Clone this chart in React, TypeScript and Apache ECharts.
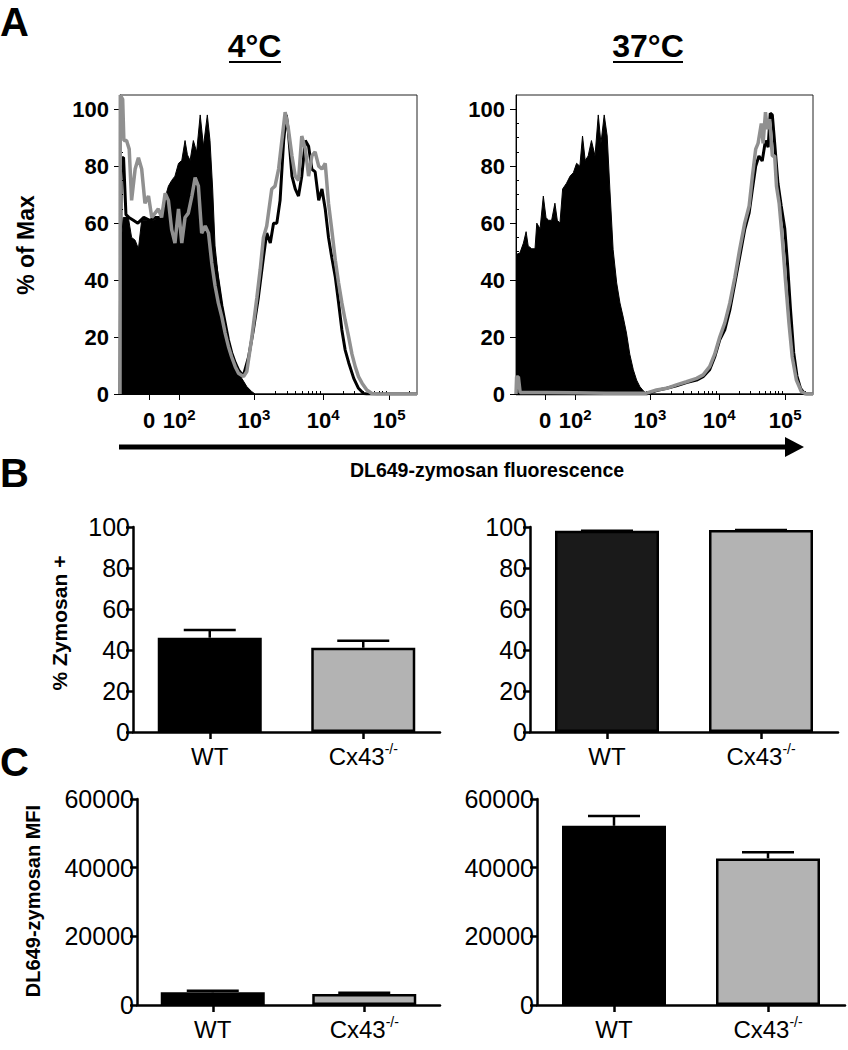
import React, { useEffect, useRef } from "react";
import * as echarts from "echarts";

const FONT = "'Liberation Sans', Arial, Helvetica, sans-serif";

// ---------- Panel A: flow-cytometry histograms ----------
// x = position on the biexponential display axis (0–100 across the plot), y = % of Max
const coldControl = [
  [0, 48], [1.1, 62], [2.8, 62], [3.9, 55], [5.1, 54], [6.2, 51], [7.3, 61], [9.0, 61], [11.2, 61],
  [13.5, 62], [15.2, 69], [16.3, 73], [17.4, 75], [18.5, 76.5], [19.7, 81], [20.8, 82], [21.9, 89],
  [22.7, 84], [23.6, 82], [24.7, 89], [25.8, 85], [27.0, 98], [28.1, 87], [29.4, 98], [30.3, 89],
  [31.2, 72], [32.0, 52], [33.1, 41], [34.3, 32], [35.4, 25], [36.5, 19], [37.6, 14], [38.8, 11],
  [39.9, 8], [41.0, 5.5], [42.7, 2.6], [44.4, 0.8], [45.5, 0], [100, 0],
];
const coldWT = [
  [0, 0], [0.4, 83], [1.2, 83], [2.0, 63], [3.0, 62], [4.5, 61], [6.0, 60], [8, 62], [10, 61], [12, 62],
  [14, 62], [16, 66], [18, 70], [20, 72], [22, 75], [24, 78], [26, 76], [28, 72], [30, 62], [31.5, 50],
  [33, 40], [34.3, 31], [35.4, 25], [36.5, 19], [37.6, 14.5], [38.8, 11], [39.9, 8.5], [41.0, 7],
  [41.6, 6.7], [43.3, 13], [44.9, 22.5], [46.6, 34], [48.3, 48], [49.4, 56.5], [50.6, 53], [51.7, 60],
  [52.8, 60], [53.9, 68], [55.1, 89], [56.0, 98], [56.7, 92], [57.9, 76.5], [59.0, 72], [60.1, 69.5],
  [61.2, 76.5], [62.4, 89], [63.5, 87], [64.6, 79], [65.7, 78], [66.9, 68], [68.0, 72], [69.1, 65],
  [70.2, 55], [71.3, 48], [72.5, 41], [73.6, 32], [74.7, 22.5], [75.8, 15.5], [77.0, 11], [78.7, 5.5],
  [80.3, 2], [82.0, 0.2], [83.1, 0], [100, 0],
];
const coldKO = [
  [0, 0], [0.1, 105], [0.9, 103.5], [1.3, 89], [2.2, 89], [3.1, 86], [3.9, 68], [5.1, 79], [6.2, 83],
  [7.3, 79], [8.4, 67], [9.6, 69.5], [10.7, 62], [11.8, 63.5], [12.9, 65], [14.0, 62], [15.2, 70.5],
  [16.3, 68], [17.4, 57.7], [18.5, 53], [19.7, 65], [20.8, 53], [21.9, 62], [23.0, 63.5], [24.2, 69.5],
  [25.3, 76], [26.4, 73], [27.5, 56.5], [28.7, 59], [29.8, 56.5], [30.9, 46], [32.0, 38], [33.1, 32],
  [34.3, 27], [35.4, 21.4], [36.5, 16.7], [37.6, 13], [38.8, 9.6], [39.9, 7.3], [41.6, 6.1], [42.7, 7.9],
  [44.4, 20], [46.1, 34], [47.2, 43.7], [48.3, 55], [49.4, 59], [51.1, 72], [52.2, 73], [53.4, 79],
  [54.5, 89], [55.6, 99], [56.7, 93], [57.9, 83.6], [59.0, 76.5], [60.1, 75], [61.2, 90.6], [62.4, 86],
  [63.5, 76.5], [64.6, 83.6], [65.7, 85], [66.9, 80], [68.0, 79], [69.1, 81], [70.2, 67], [71.3, 57.7],
  [72.5, 47], [73.6, 39], [74.7, 32], [75.8, 26], [77.0, 20], [78.1, 14], [79.2, 9.6], [80.3, 6.1],
  [81.5, 3.8], [83.1, 1.4], [84.8, 0.2], [86.5, 0], [100, 0],
];
const warmControl = [
  [0, 49], [1.3, 49.5], [2.5, 53], [3.4, 57], [4.1, 52], [5.3, 51], [6.4, 51], [7.0, 60], [8.1, 58],
  [9.2, 69.5], [10.1, 62], [10.9, 61], [12.0, 61], [13.1, 67], [13.9, 61], [14.8, 60], [15.7, 72],
  [17.0, 74], [18.2, 76.5], [19.3, 77.7], [20.4, 81], [21.5, 80], [22.4, 90.6], [23.3, 82], [24.3, 83.6],
  [25.4, 89], [26.6, 83.6], [27.7, 98], [28.6, 88], [29.7, 98], [30.7, 90.6], [31.6, 72], [32.7, 50.7],
  [33.9, 39], [35.0, 32], [36.1, 27], [37.2, 21.4], [38.3, 14], [39.5, 8.5], [40.6, 4.9], [41.7, 2.6],
  [42.8, 1.2], [43.9, 0.2], [45.1, 0], [100, 0],
];
const warmWT = [
  [0, 0], [43.9, 0], [47.3, 1.2], [50.7, 2], [54.0, 2.9], [57.4, 4], [60.8, 4.9], [63.0, 6.1], [65.2, 8.5],
  [66.9, 13], [68.6, 19], [70.3, 22.5], [72.0, 29.5], [73.7, 39], [75.3, 48], [77.0, 57.7], [78.5, 63.6],
  [79.6, 72], [80.7, 80], [81.8, 83.6], [82.9, 81.8], [84.0, 89], [84.9, 86.7], [85.6, 98.6], [86.3, 98],
  [87.1, 88], [88.2, 74], [89.3, 66], [90.5, 58], [91.4, 46], [92.4, 30], [93.5, 14.5], [94.6, 6.3],
  [95.8, 2], [97.2, 0], [100, 0],
];
const warmKO = [
  [0, 0], [0.2, 6], [0.8, 6], [1.4, 0.5], [10, 0.5], [20, 0.4], [30, 0.3], [43.9, 0.3], [47.3, 1.4],
  [50.7, 2], [54.0, 3.2], [57.4, 4.3], [60.8, 5.5], [63.0, 6.7], [65.2, 9.6], [66.9, 14], [68.6, 20],
  [70.3, 25], [72.0, 32], [73.7, 41], [75.3, 50.7], [77.0, 60], [78.5, 66], [79.6, 76.5], [80.7, 86],
  [81.5, 88], [82.6, 95], [83.2, 88], [84.0, 99], [84.6, 93], [85.4, 96.5], [86.3, 83.6], [87.1, 83.6],
  [87.7, 73], [88.6, 67], [89.7, 54], [90.8, 39], [91.9, 25], [93.0, 13], [94.4, 4.9], [96.1, 0.8],
  [97.8, 0], [100, 0],
];

// axis positions of the labelled values 0, 10^2, 10^3, 10^4, 10^5
const histTickPositions = [9.8, 19.9, 45.1, 68.4, 90.6];
const histTickLabels = ["0", "10{s|2}", "10{s|3}", "10{s|4}", "10{s|5}"];
const histYTicks = [0, 20, 40, 60, 80, 100];
const histYMinor = [5, 10, 15, 25, 30, 35, 45, 50, 55, 65, 70, 75, 85, 90, 95];

// ---------- Panels B and C: bar charts ----------
const groups = ["WT", "Cx43-/-"];
const pctCold = [46, 41.1];
const pctColdErr = [3.7, 3.4];
const pctWarm = [98.2, 98.5];
const pctWarmErr = [0, 0];
const mfiCold = [3700, 3200];
const mfiColdErr = [450, 400];
const mfiWarm = [52200, 42700];
const mfiWarmErr = [2850, 1770];

function logMinor(a: number, b: number) {
  const r: number[] = [];
  for (let m = 2; m <= 9; m++) r.push(a + Math.log10(m) * (b - a));
  return r;
}
const histMinorTicks = [
  1.5, 3, 4.5, 5.5, 6.5, 7.5, 8.5, 11.5, 13, 14.5, 15.5, 16.5, 17.5, 18.5,
  ...logMinor(19.9, 45.1), ...logMinor(45.1, 68.4), ...logMinor(68.4, 90.6),
  90.6 + Math.log10(2) * 22.2,
];

export default function App() {
  const ref = useRef<HTMLDivElement>(null);
  useEffect(() => {
    document.body.style.margin = "0";
    if (!ref.current) return;
    const chart = echarts.init(ref.current, null, { renderer: "svg" });

    const grids = [
      { left: 120, top: 95, width: 297, height: 299, show: true, borderColor: "#222", borderWidth: 1 },
      { left: 516, top: 95, width: 297, height: 299, show: true, borderColor: "#222", borderWidth: 1 },
      { left: 133, top: 527, width: 307, height: 205 },
      { left: 530, top: 527, width: 308, height: 205 },
      { left: 137, top: 799, width: 303, height: 206 },
      { left: 537, top: 799, width: 308, height: 206 },
    ];

    const xAxes: any[] = [];
    const yAxes: any[] = [];
    [0, 1].forEach((g) => {
      xAxes.push({
        type: "value", gridIndex: g, min: 0, max: 100,
        axisLine: { show: true, lineStyle: { color: "#000", width: 1 } },
        axisTick: { show: true, customValues: histTickPositions, length: 6, lineStyle: { color: "#000", width: 1 } },
        axisLabel: {
          customValues: histTickPositions,
          margin: 13,
          color: "#000", fontSize: 22, fontWeight: "bold", fontFamily: FONT, lineHeight: 26,
          formatter: (v: number) => {
            let best = 0;
            histTickPositions.forEach((p, i) => { if (Math.abs(p - v) < Math.abs(histTickPositions[best] - v)) best = i; });
            return histTickLabels[best];
          },
          rich: { s: { fontSize: 15, fontWeight: "bold", fontFamily: FONT, color: "#000", verticalAlign: "top", lineHeight: 15 } },
        },
        splitLine: { show: false },
      });
      xAxes.push({
        type: "value", gridIndex: g, min: 0, max: 100,
        axisLine: { show: false },
        axisTick: { show: true, customValues: histMinorTicks, length: 3, lineStyle: { color: "#000", width: 1 } },
        axisLabel: { show: false },
        splitLine: { show: false },
      });
      yAxes.push({
        type: "value", gridIndex: g, min: 0, max: 105,
        axisLine: { show: true, lineStyle: { color: "#000", width: 1 } },
        axisTick: { show: true, customValues: histYTicks, length: 6, lineStyle: { color: "#000", width: 1 } },
        axisLabel: { customValues: histYTicks, margin: 11, color: "#000", fontSize: 22, fontWeight: "bold", fontFamily: FONT },
        splitLine: { show: false },
      });
      yAxes.push({
        type: "value", gridIndex: g, min: 0, max: 105,
        axisLine: { show: false },
        axisTick: { show: true, customValues: histYMinor, length: 3, lineStyle: { color: "#000", width: 1 } },
        axisLabel: { show: false },
        splitLine: { show: false },
      });
    });

    const barYMax = [100, 100, 60000, 60000];
    const barYInt = [20, 20, 20000, 20000];
    [2, 3, 4, 5].forEach((g, k) => {
      xAxes.push({
        type: "category", gridIndex: g, data: groups,
        axisLine: { show: true, lineStyle: { color: "#000", width: 2.5 } },
        axisTick: { show: true, alignWithLabel: true, length: 7, lineStyle: { color: "#000", width: 2.5 } },
        axisLabel: {
          margin: 10, color: "#000", fontSize: 24, fontFamily: FONT, lineHeight: 28,
          formatter: (v: string) => (v === "WT" ? "WT" : "Cx43{s|-/-}"),
          rich: { s: { fontSize: 14, fontFamily: FONT, color: "#000", verticalAlign: "top", lineHeight: 14 } },
        },
        splitLine: { show: false },
      });
      yAxes.push({
        type: "value", gridIndex: g, min: 0, max: barYMax[k], interval: barYInt[k],
        axisLine: { show: true, lineStyle: { color: "#000", width: 2.5 } },
        axisTick: { show: true, length: 7, lineStyle: { color: "#000", width: 2.5 } },
        axisLabel: { margin: 3, color: "#000", fontSize: 25, fontFamily: FONT, formatter: (v: number) => String(v) },
        splitLine: { show: false },
      });
    });

    const histSeries = (xi: number, yi: number, ctrl: number[][], wt: number[][], ko: number[][]) => [
      { type: "line", xAxisIndex: xi, yAxisIndex: yi, data: ctrl, symbol: "none", z: 2,
        lineStyle: { color: "#000", width: 1 }, areaStyle: { color: "#000", opacity: 1 } },
      { type: "line", xAxisIndex: xi, yAxisIndex: yi, data: wt, symbol: "none", z: 3,
        lineStyle: { color: "#000", width: 3 } },
      { type: "line", xAxisIndex: xi, yAxisIndex: yi, data: ko, symbol: "none", z: 4,
        lineStyle: { color: "#909090", width: 3.5 } },
    ];

    const errRender = (params: any, api: any) => {
      const x = api.value(0), v = api.value(1), e = api.value(2);
      const p0 = api.coord([x, v]);
      const p1 = api.coord([x, v + e]);
      const hw = 26;
      return {
        type: "group",
        children: [
          { type: "line", shape: { x1: p0[0], y1: p0[1], x2: p1[0], y2: p1[1] }, style: { stroke: "#000", lineWidth: 2.5 } },
          { type: "line", shape: { x1: p1[0] - hw, y1: p1[1], x2: p1[0] + hw, y2: p1[1] }, style: { stroke: "#000", lineWidth: 2.5 } },
        ],
      };
    };
    const barSeries = (ai: number, vals: number[], errs: number[], colors: string[]) => [
      { type: "bar", xAxisIndex: ai, yAxisIndex: ai, barWidth: 104,
        itemStyle: { borderColor: "#000", borderWidth: 2.5 },
        data: vals.map((v, i) => ({ value: v, itemStyle: { color: colors[i], borderColor: "#000", borderWidth: 2.5 } })) },
      { type: "custom", xAxisIndex: ai, yAxisIndex: ai, renderItem: errRender, z: 5,
        data: vals.map((v, i) => [i, v, errs[i]]) },
    ];

    const txt = (text: string, x: number, y: number, size: number, bold: boolean, extra: any = {}) => ({
      type: "text", x, y, ...extra,
      style: { text, fill: "#000", fontSize: size, fontWeight: bold ? "bold" : "normal", fontFamily: FONT,
        align: "center", verticalAlign: "middle" },
    });

    chart.setOption({
      animation: false,
      backgroundColor: "#fff",
      grid: grids,
      xAxis: xAxes,
      yAxis: yAxes,
      series: [
        ...histSeries(0, 0, coldControl, coldWT, coldKO),
        ...histSeries(2, 2, warmControl, warmWT, warmKO),
        ...barSeries(4, pctCold, pctColdErr, ["#000000", "#b3b3b3"]),
        ...barSeries(5, pctWarm, pctWarmErr, ["#1a1a1a", "#b3b3b3"]),
        ...barSeries(6, mfiCold, mfiColdErr, ["#000000", "#b3b3b3"]),
        ...barSeries(7, mfiWarm, mfiWarmErr, ["#000000", "#b3b3b3"]),
      ],
      graphic: [
        { type: "text", x: 0, y: 22, style: { text: "A", fill: "#000", fontSize: 40, fontWeight: "bold", fontFamily: FONT, align: "left", verticalAlign: "middle" } },
        { type: "text", x: 0, y: 473, style: { text: "B", fill: "#000", fontSize: 40, fontWeight: "bold", fontFamily: FONT, align: "left", verticalAlign: "middle" } },
        { type: "text", x: 0, y: 762, style: { text: "C", fill: "#000", fontSize: 40, fontWeight: "bold", fontFamily: FONT, align: "left", verticalAlign: "middle" } },
        txt("4°C", 254.5, 46, 32, true),
        txt("37°C", 648, 46, 32, true),
        { type: "line", shape: { x1: 229, y1: 62, x2: 281, y2: 62 }, style: { stroke: "#000", lineWidth: 2 } },
        { type: "line", shape: { x1: 613, y1: 62, x2: 683, y2: 62 }, style: { stroke: "#000", lineWidth: 2 } },
        txt("% of Max", 26, 245, 23, true, { rotation: Math.PI / 2 }),
        { type: "line", shape: { x1: 119, y1: 447, x2: 787, y2: 447 }, style: { stroke: "#000", lineWidth: 5 } },
        { type: "polygon", shape: { points: [[785, 437], [804, 447], [785, 457]] }, style: { fill: "#000" } },
        txt("DL649-zymosan fluorescence", 487, 470, 19.5, true),
        txt("% Zymosan +", 59, 623, 21, true, { rotation: Math.PI / 2 }),
        txt("DL649-zymosan MFI", 33, 901, 20, true, { rotation: Math.PI / 2 }),
      ],
    });
    return () => chart.dispose();
  }, []);
  return <div ref={ref} style={{ width: 848, height: 1050 }} />;
}
